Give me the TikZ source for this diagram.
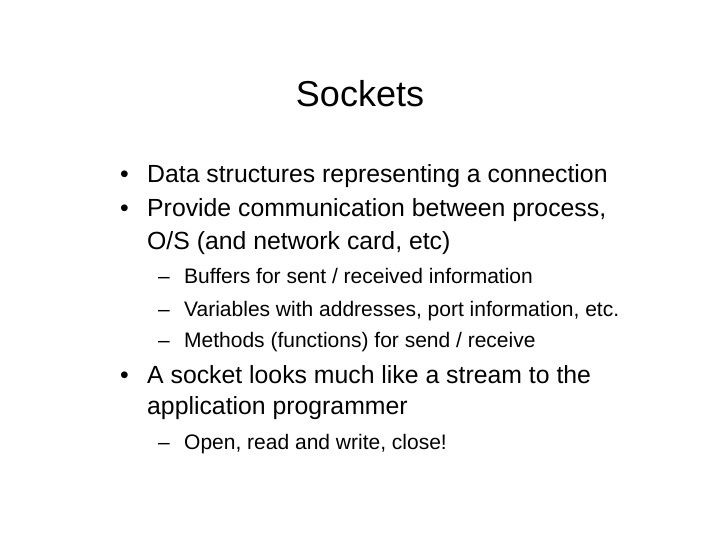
\documentclass[tikz,border=0pt]{standalone}
\usepackage{fontspec}
\setmainfont{Liberation Sans}
\begin{document}
\begin{tikzpicture}[x=1pt,y=-1pt,
  lvone/.style={anchor=base west,inner sep=0pt,font=\fontsize{24.8}{28}\selectfont},
  lvtwo/.style={anchor=base west,inner sep=0pt,font=\fontsize{21}{24}\selectfont}]
\useasboundingbox[fill=white] (0,0) rectangle (720,540);
\node[anchor=base,inner sep=0pt,font=\fontsize{36}{40}\selectfont] (title) at (360,107) {Sockets};
\node[lvone] (b1) at (120,183) {•};
\node[lvone] (t1) at (147,183) {Data structures representing a connection};
\node[lvone] (b2) at (120,216) {•};
\node[lvone] (t2) at (147,216) {Provide communication between process,};
\node[lvone] (t2b) at (147,249) {O/S (and network card, etc)};
\node[lvtwo] (d1) at (158,283) {–};
\node[lvtwo] (s1) at (184,283) {Buffers for sent / received information};
\node[lvtwo] (d2) at (158,316) {–};
\node[lvtwo] (s2) at (184,316) {Variables with addresses, port information, etc.};
\node[lvtwo] (d3) at (158,347) {–};
\node[lvtwo] (s3) at (184,347) {Methods (functions) for send / receive};
\node[lvone] (b3) at (120,383) {•};
\node[lvone] (t3) at (147,383) {A socket looks much like a stream to the};
\node[lvone] (t3b) at (147,414) {application programmer};
\node[lvtwo] (d4) at (158,449) {–};
\node[lvtwo] (s4) at (184,449) {Open, read and write, close!};
\end{tikzpicture}
\end{document}
